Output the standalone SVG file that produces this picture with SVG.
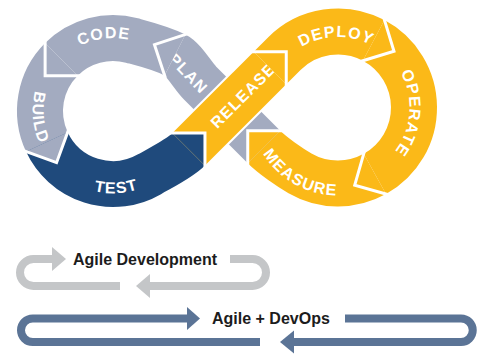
<svg xmlns="http://www.w3.org/2000/svg" width="480" height="354" viewBox="0 0 480 354">
<style>
.seg{fill:none;stroke-width:46;stroke-linecap:butt}
.g{stroke:#a3abc0}.b{stroke:#1f4a7c}.y{stroke:#fbb918}
.lbl{font-family:"Liberation Sans",Arial,sans-serif;font-weight:bold;font-size:16px;fill:#fff;letter-spacing:1.2px}
.chev{fill:none;stroke:#fff;stroke-width:3;stroke-linejoin:miter}
.al{fill:none;stroke:#c4c6c8;stroke-width:8}
.ab{fill:none;stroke:#5b7496;stroke-width:8}
.cap{font-family:"Liberation Sans",Arial,sans-serif;font-weight:bold;font-size:16px;fill:#1c1c1c}
</style>
<defs>
<path id="tp-code" d="M40,111 A73 73 0 0 1 186,111"/>
<path id="tp-build" d="M113,30.6 A80.4 80.4 0 0 0 113,191.4"/>
<path id="tp-test" d="M30.6,111 A82.4 82.4 0 0 0 195.4,111"/>
<path id="tp-deploy" d="M267.4,107.5 A70.6 70.6 0 0 1 408.6,107.5"/>
<path id="tp-operate" d="M338,35.9 A71.6 71.6 0 0 1 338,179.1"/>
<path id="tp-measure" d="M250,107.5 A88 88 0 0 0 426,107.5"/>
</defs>
<g id="plan">
<path class="seg g" d="M264,147 L200,83 C192.9,75.9 183.9,59.5 175,55"/>
<text class="lbl" text-anchor="middle" transform="translate(188.5,73.5) rotate(46)" y="5.7">PLAN</text>
</g>
<g id="code">
<path class="seg g" d="M175,55 C161.6,48.2 146.4,44.4 131.9,40.5 A73 73 0 0 0 61.38,59.38"/>
<text class="lbl"><textPath href="#tp-code" startOffset="46.1%" text-anchor="middle">CODE</textPath></text>
</g>
<g id="build">
<path class="seg g" d="M61.38,59.38 A73 73 0 0 0 46.84,141.85"/>
<text class="lbl"><textPath href="#tp-build" startOffset="52.8%" text-anchor="middle">BUILD</textPath></text>
</g>
<g id="test">
<path class="seg b" d="M46.84,141.85 A73 73 0 0 0 149.5,174.22 C161.6,167.2 178.8,159.2 188.7,149.3"/>
<text class="lbl"><textPath href="#tp-test" startOffset="51.4%" text-anchor="middle">TEST</textPath></text>
</g>
<g id="release">
<path d="M206,132 L250,88" stroke="#fff" stroke-width="50" fill="none"/>
<path class="seg y" d="M188.7,149.3 L270,68"/>
<text class="lbl" text-anchor="middle" transform="translate(243,95.5) rotate(-45)" y="5.7">RELEASE</text>
</g>
<g id="deploy">
<path class="seg y" d="M270,68 L284.26,53.76 A76 76 0 0 1 373.68,40.4"/>
<text class="lbl"><textPath href="#tp-deploy" startOffset="49.2%" text-anchor="middle">DEPLOY</textPath></text>
</g>
<g id="operate">
<path class="seg y" d="M373.68,40.4 A76 76 0 0 1 374.85,173.97"/>
<text class="lbl"><textPath href="#tp-operate" startOffset="52.5%" text-anchor="middle">OPERATE</textPath></text>
</g>
<g id="measure">
<path class="seg y" d="M374.85,173.97 A76 76 0 0 1 300,173.32 C289.6,167.3 272.5,155.5 264,147"/>
<text class="lbl"><textPath href="#tp-measure" startOffset="33.6%" text-anchor="middle">MEASURE</textPath></text>
</g>
<g id="joints">
<polygon fill="#a3abc0" points="26,151.57 56.56,162.69 67.68,132.13"/>
<polygon fill="#1f4a7c" points="204.96,165.56 204.96,133.04 172.44,133.04"/>
<polygon fill="#fbb918" points="280.26,130.74 247.74,130.74 247.74,163.26"/>
<polyline class="chev" points="187.85,33.66 154.47,44.62 165.43,78"/>
<polyline class="chev" points="45.12,40.52 45.12,75.64 80.24,75.64"/>
<polyline class="chev" points="23.56,150.68 56.56,162.69 68.57,129.69"/>
<polyline class="chev" points="204.96,168.16 204.96,133.04 169.84,133.04"/>
<polyline class="chev" points="251.14,51.74 286.26,51.74 286.26,86.86"/>
<polyline class="chev" points="383.72,17.6 393.99,51.2 360.39,61.47"/>
<polyline class="chev" points="388.5,194.81 354.73,185.12 364.42,151.35"/>
<polyline class="chev" points="282.9,130.74 247.74,130.74 247.74,165.9"/>
</g>
<g id="agile-development">
<text class="cap" x="73" y="264.5">Agile Development</text>
</g>
<g id="agile-devops">
<text class="cap" x="212" y="324">Agile + DevOps</text>
</g>
<g id="connectors">
<path class="al" d="M53,259 L33.5,259 A13.5 13.5 0 0 0 33.5,286 L120,286"/>
<polygon fill="#c4c6c8" points="52,247 66,259 52,271"/>
<path class="al" d="M230,259 L252.5,259 A13.5 13.5 0 0 1 252.5,286 L149,286"/>
<polygon fill="#c4c6c8" points="150,274 136,286 150,298"/>
<path class="ab" d="M188,318.5 L32.75,318.5 A11.75 11.75 0 0 0 32.75,342 L260,342"/>
<polygon fill="#5b7496" points="187,307 200,318.5 187,330"/>
<path class="ab" d="M345,318.5 L461,318.5 A11.75 11.75 0 0 1 461,342 L293,342"/>
<polygon fill="#5b7496" points="294,330.5 280,342 294,353.5"/>
</g>
</svg>
